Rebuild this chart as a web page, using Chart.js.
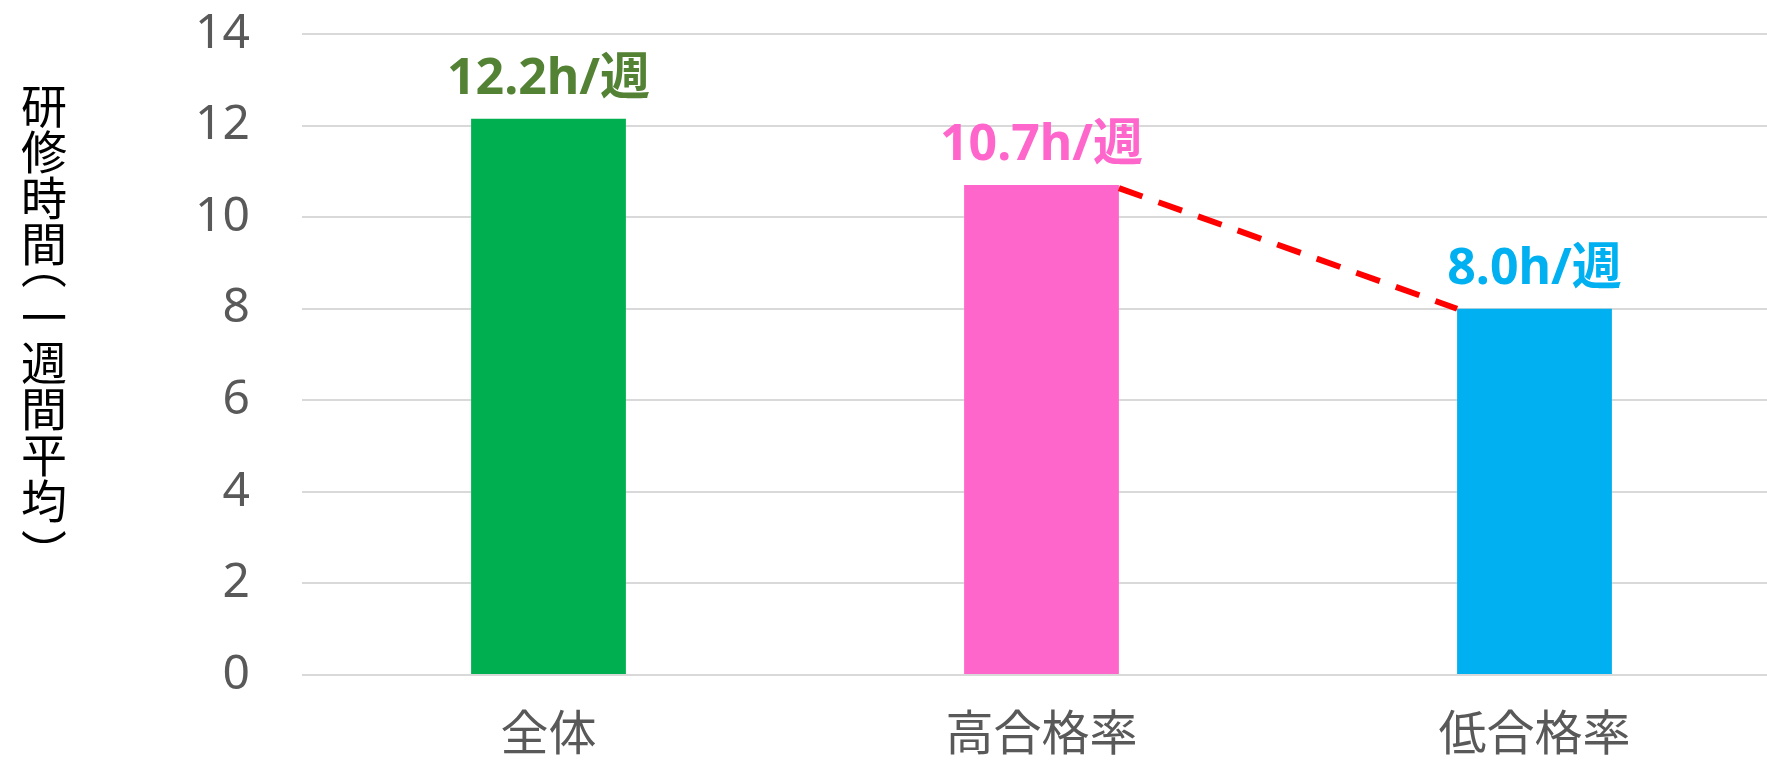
<!DOCTYPE html>
<html lang="ja">
<head>
    <meta charset="UTF-8">
    <title>研修時間（一週間平均）</title>
    <script src="https://cdn.jsdelivr.net/npm/chart.js"></script>
    <style>
        html, body { margin: 0; padding: 0; background: #fff; overflow: hidden; }
        #wrap { width: 1781px; height: 760px; }
    </style>
</head>
<body>
    <div id="wrap"><canvas id="grafico" width="1781" height="760"></canvas></div>
    <script>
        // datos
        const categorias = ['全体', '高合格率', '低合格率'];
        const horas = [12.15, 10.7, 8.0];
        const etiquetas = ['12.2h/週', '10.7h/週', '8.0h/週'];
        const coloresBarra = ['#00B050', '#FF66CC', '#00B0F0'];
        const coloresEtiqueta = ['#548235', '#FF66CC', '#00B0F0'];
        const tituloY = '研修時間（一週間平均）';
        const tramo = [1, 2]; // barras unidas por la linea punteada

        // etiquetas encima de cada barra
        const etiquetasPlugin = {
            id: 'etiquetas',
            afterDatasetsDraw(chart) {
                const ctx = chart.ctx;
                const meta = chart.getDatasetMeta(0);
                ctx.save();
                ctx.font = 'bold 50px "Noto Sans", "Noto Sans CJK JP", sans-serif';
                ctx.textAlign = 'center';
                ctx.textBaseline = 'alphabetic';
                meta.data.forEach((bar, i) => {
                    ctx.fillStyle = coloresEtiqueta[i];
                    ctx.fillText(etiquetas[i], bar.x, bar.y - 25);
                });
                ctx.restore();
            }
        };

        // linea punteada entre la esquina de una barra y la siguiente
        const lineaPlugin = {
            id: 'linea',
            afterDatasetsDraw(chart) {
                const ctx = chart.ctx;
                const meta = chart.getDatasetMeta(0);
                const a = meta.data[tramo[0]];
                const b = meta.data[tramo[1]];
                ctx.save();
                ctx.strokeStyle = '#FF0000';
                ctx.lineWidth = 6;
                ctx.setLineDash([25, 17]);
                ctx.beginPath();
                ctx.moveTo(a.x + a.width / 2, a.y + 3);
                ctx.lineTo(b.x - b.width / 2, b.y);
                ctx.stroke();
                ctx.restore();
            }
        };

        // titulo vertical del eje y (los parentesis se giran como en escritura vertical)
        const tituloPlugin = {
            id: 'tituloVertical',
            afterDraw(chart) {
                const ctx = chart.ctx;
                ctx.save();
                ctx.font = '46px "Noto Sans CJK JP", sans-serif';
                ctx.fillStyle = '#000000';
                ctx.textAlign = 'center';
                ctx.textBaseline = 'middle';
                let y = 83;
                for (const c of tituloY) {
                    const girar = (c === '（' || c === '）');
                    const paso = girar ? 27 : 46;
                    const cy = y + paso / 2;
                    if (girar) {
                        const m = ctx.measureText(c);
                        const medio = (m.actualBoundingBoxRight - m.actualBoundingBoxLeft) / 2;
                        ctx.save();
                        ctx.translate(44, cy);
                        ctx.rotate(Math.PI / 2);
                        ctx.fillText(c, -medio, 0);
                        ctx.restore();
                    } else {
                        ctx.fillText(c, 44, cy);
                    }
                    y += paso;
                }
                ctx.restore();
            }
        };

        new Chart(document.getElementById('grafico'), {
            type: 'bar',
            data: {
                labels: categorias,
                datasets: [{
                    data: horas,
                    backgroundColor: coloresBarra,
                    borderWidth: 0,
                    barPercentage: 0.314,
                    categoryPercentage: 1
                }]
            },
            options: {
                responsive: false,
                animation: false,
                layout: { padding: { top: 34, left: 0, right: 0, bottom: 0 } },
                plugins: {
                    legend: { display: false },
                    tooltip: { enabled: false }
                },
                scales: {
                    x: {
                        grid: { display: false },
                        border: { display: false },
                        ticks: {
                            color: '#595959',
                            padding: 20,
                            font: { family: '"Noto Sans CJK JP", sans-serif', size: 48 }
                        },
                        afterFit(scale) {
                            scale.height = 85;
                            scale.paddingLeft = 0;
                            scale.paddingRight = 0;
                        }
                    },
                    y: {
                        min: 0,
                        max: 14,
                        border: { display: false },
                        grid: { color: '#D9D9D9', lineWidth: 2, drawTicks: false },
                        ticks: {
                            stepSize: 2,
                            color: '#595959',
                            padding: 52,
                            font: { family: '"Noto Sans", sans-serif', size: 48 }
                        },
                        afterFit(scale) {
                            scale.width = 302;
                            scale.paddingTop = 0;
                            scale.paddingBottom = 0;
                        }
                    }
                }
            },
            plugins: [lineaPlugin, etiquetasPlugin, tituloPlugin]
        });
    </script>
</body>
</html>
